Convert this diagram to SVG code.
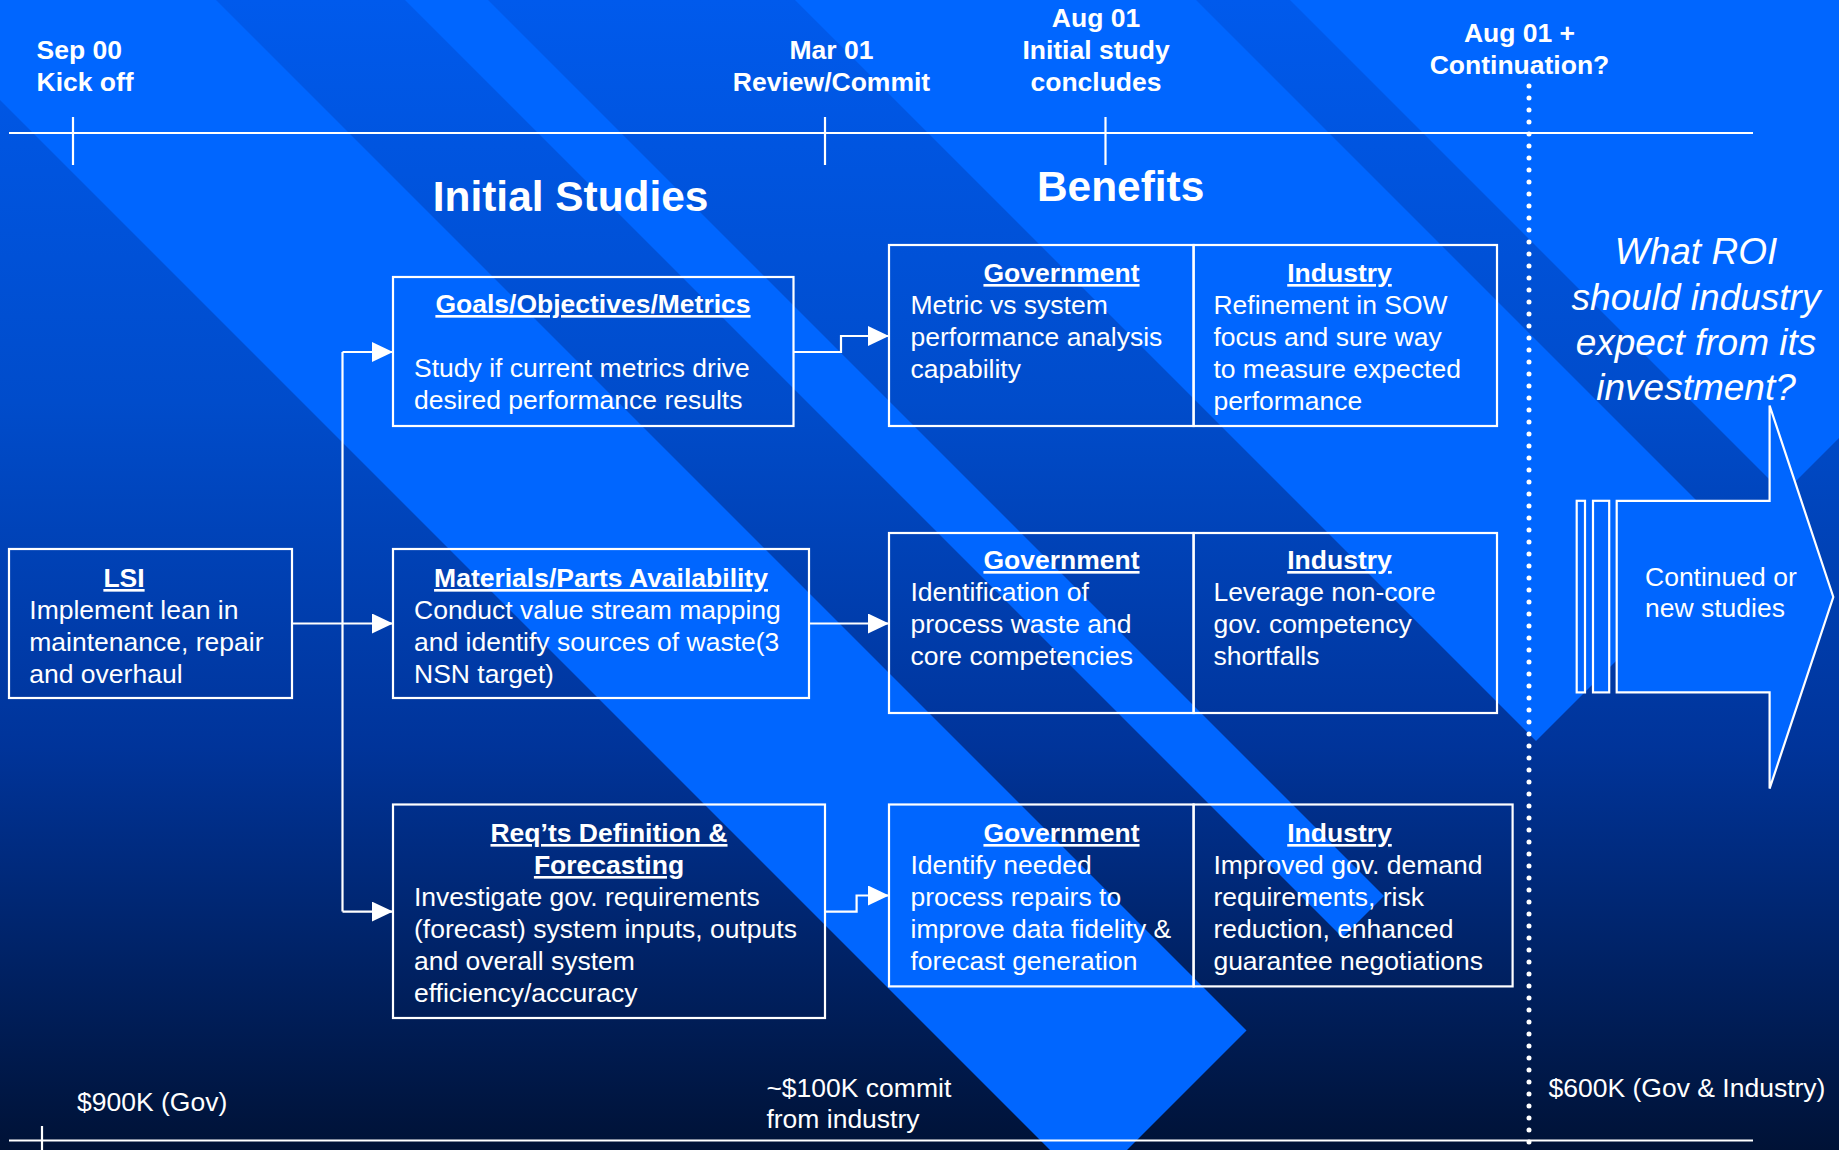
<svg xmlns="http://www.w3.org/2000/svg" width="1839" height="1150" viewBox="0 0 1839 1150">
  <defs>
    <linearGradient id="bg" x1="0" y1="0" x2="0" y2="1">
      <stop offset="0" stop-color="#005AEC"/>
      <stop offset="0.35" stop-color="#004CCB"/>
      <stop offset="0.65" stop-color="#00349A"/>
      <stop offset="1" stop-color="#001236"/>
    </linearGradient>
    <marker id="arrow" markerUnits="userSpaceOnUse" viewBox="0 0 21 20" refX="21" refY="10" markerWidth="21" markerHeight="20" orient="auto">
      <path d="M0,0 L21,10 L0,20 z" fill="#FFFFFF"/>
    </marker>
    <style>
      text { font-family: "Liberation Sans", Arial, sans-serif; fill: #FFFFFF; }
      .ms { font-size: 26.5px; font-weight: bold; }
      .title { font-size: 42.4px; font-weight: bold; text-anchor: middle; }
      .hd { font-size: 26.5px; font-weight: bold; text-decoration: underline; text-anchor: middle; }
      .tx { font-size: 26.5px; }
      .q { font-size: 37px; font-style: italic; text-anchor: middle; }
      .mid { text-anchor: middle; }
      .box { fill: none; stroke: #FFFFFF; stroke-width: 2.2; }
      .stripe { fill: #0066FF; }
      .axis { stroke: #FFFFFF; stroke-width: 2.2; fill: none; }
      .conn { stroke: #FFFFFF; stroke-width: 2.2; fill: none; }
      .solid { fill: #0066FF; stroke: #FFFFFF; stroke-width: 2.2; }
    </style>
  </defs>

  <!-- backdrop: gradient plus diagonal bands, each cut square along x+y=2280 -->
  <g id="background">
    <rect x="0" y="0" width="1839" height="1150" fill="url(#bg)"/>
    <polygon class="stripe" points="-2000,-1900 1088.5,1188.5 1246.5,1030.5 -2000,-2216"/>
    <polygon class="stripe" points="-2000,-2405 1342.5,937.5 1384,896 -2000,-2488"/>
    <polygon class="stripe" points="-2000,-2795 1536,741 1736.5,540.5 -2000,-3196"/>
    <polygon class="stripe" points="1290,0 1839,0 1839,438 1783.5,493.5"/>
  </g>

  <!-- timeline -->
  <g id="timeline">
    <line class="axis" x1="9" y1="133" x2="1753" y2="133"/>
    <line class="axis" x1="73" y1="117" x2="73" y2="165"/>
    <line class="axis" x1="825" y1="117" x2="825" y2="165"/>
    <line class="axis" x1="1105.5" y1="117" x2="1105.5" y2="165"/>
    <line class="axis" x1="9" y1="1140.5" x2="1753" y2="1140.5"/>
    <line class="axis" x1="42" y1="1126" x2="42" y2="1150"/>
    <line x1="1529" y1="86" x2="1529" y2="1150" stroke="#FFFFFF" stroke-width="5" stroke-linecap="round" stroke-dasharray="0 12"/>
  </g>

  <g id="milestones">
    <text class="ms" x="36.5" y="59">Sep 00</text>
    <text class="ms" x="36.5" y="91">Kick off</text>
    <text class="ms mid" x="831.5" y="59">Mar 01</text>
    <text class="ms mid" x="831.5" y="91">Review/Commit</text>
    <text class="ms mid" x="1096" y="27">Aug 01</text>
    <text class="ms mid" x="1096" y="59">Initial study</text>
    <text class="ms mid" x="1096" y="91">concludes</text>
    <text class="ms mid" x="1519.5" y="42">Aug 01 +</text>
    <text class="ms mid" x="1519.5" y="74">Continuation?</text>
  </g>

  <g id="titles">
    <text class="title" x="570.6" y="211">Initial Studies</text>
    <text class="title" x="1120.6" y="201">Benefits</text>
  </g>

  <!-- connectors -->
  <g id="connectors">
    <path class="conn" d="M292,623.5 H393" marker-end="url(#arrow)"/>
    <path class="conn" d="M342.5,352 V911.6"/>
    <path class="conn" d="M342.5,352 H393" marker-end="url(#arrow)"/>
    <path class="conn" d="M342.5,911.6 H393" marker-end="url(#arrow)"/>
    <path class="conn" d="M793.5,352 H841 V336 H889" marker-end="url(#arrow)"/>
    <path class="conn" d="M809,623.5 H889" marker-end="url(#arrow)"/>
    <path class="conn" d="M825,911.6 H856.6 V895.5 H889" marker-end="url(#arrow)"/>
  </g>

  <g id="lsi">
    <rect class="box" x="9" y="549" width="283" height="149"/>
    <text class="hd" x="124" y="587">LSI</text>
    <text class="tx" x="29.3" y="619">Implement lean in</text>
    <text class="tx" x="29.3" y="651">maintenance, repair</text>
    <text class="tx" x="29.3" y="683">and overhaul</text>
  </g>

  <g id="goals">
    <rect class="box" x="393" y="277" width="400.5" height="149"/>
    <text class="hd" x="593" y="313">Goals/Objectives/Metrics</text>
    <text class="tx" x="414" y="377">Study if current metrics drive</text>
    <text class="tx" x="414" y="409">desired performance results</text>
  </g>

  <g id="materials">
    <rect class="box" x="393" y="549" width="416" height="149"/>
    <text class="hd" x="601" y="587">Materials/Parts Availability</text>
    <text class="tx" x="414" y="619">Conduct value stream mapping</text>
    <text class="tx" x="414" y="651">and identify sources of waste(3</text>
    <text class="tx" x="414" y="683">NSN target)</text>
  </g>

  <g id="reqts">
    <rect class="box" x="393" y="804.5" width="432" height="213.5"/>
    <text class="hd" x="609" y="842">Req’ts Definition &amp;</text>
    <text class="hd" x="609" y="874">Forecasting</text>
    <text class="tx" x="414" y="906">Investigate gov. requirements</text>
    <text class="tx" x="414" y="938">(forecast) system inputs, outputs</text>
    <text class="tx" x="414" y="970">and overall system</text>
    <text class="tx" x="414" y="1002">efficiency/accuracy</text>
  </g>

  <g id="gov-metrics">
    <rect class="box" x="889" y="245" width="304.6" height="181"/>
    <text class="hd" x="1061.5" y="282">Government</text>
    <text class="tx" x="910.5" y="314">Metric vs system</text>
    <text class="tx" x="910.5" y="346">performance analysis</text>
    <text class="tx" x="910.5" y="378">capability</text>
  </g>
  <g id="ind-metrics">
    <rect class="box" x="1193.6" y="245" width="303.4" height="181"/>
    <text class="hd" x="1339.5" y="282">Industry</text>
    <text class="tx" x="1213.4" y="314">Refinement in SOW</text>
    <text class="tx" x="1213.4" y="346">focus and sure way</text>
    <text class="tx" x="1213.4" y="378">to measure expected</text>
    <text class="tx" x="1213.4" y="410">performance</text>
  </g>

  <g id="gov-materials">
    <rect class="box" x="889" y="533" width="304.6" height="180"/>
    <text class="hd" x="1061.5" y="569">Government</text>
    <text class="tx" x="910.5" y="601">Identification of</text>
    <text class="tx" x="910.5" y="633">process waste and</text>
    <text class="tx" x="910.5" y="665">core competencies</text>
  </g>
  <g id="ind-materials">
    <rect class="box" x="1193.6" y="533" width="303.4" height="180"/>
    <text class="hd" x="1339.5" y="569">Industry</text>
    <text class="tx" x="1213.4" y="601">Leverage non-core</text>
    <text class="tx" x="1213.4" y="633">gov. competency</text>
    <text class="tx" x="1213.4" y="665">shortfalls</text>
  </g>

  <g id="gov-reqts">
    <rect class="box" x="889" y="804.5" width="304.6" height="181.9"/>
    <text class="hd" x="1061.5" y="842">Government</text>
    <text class="tx" x="910.5" y="874">Identify needed</text>
    <text class="tx" x="910.5" y="906">process repairs to</text>
    <text class="tx" x="910.5" y="938">improve data fidelity &amp;</text>
    <text class="tx" x="910.5" y="970">forecast generation</text>
  </g>
  <g id="ind-reqts">
    <rect class="box" x="1193.6" y="804.5" width="319" height="181.9"/>
    <text class="hd" x="1339.5" y="842">Industry</text>
    <text class="tx" x="1213.4" y="874">Improved gov. demand</text>
    <text class="tx" x="1213.4" y="906">requirements, risk</text>
    <text class="tx" x="1213.4" y="938">reduction, enhanced</text>
    <text class="tx" x="1213.4" y="970">guarantee negotiations</text>
  </g>

  <g id="roi-question">
    <text class="q" x="1696" y="264">What ROI</text>
    <text class="q" x="1696" y="309.5">should industry</text>
    <text class="q" x="1696" y="354.5">expect from its</text>
    <text class="q" x="1696" y="400">investment?</text>
  </g>

  <g id="continuation">
    <rect class="solid" x="1576.7" y="500.8" width="8.3" height="191.6"/>
    <rect class="solid" x="1593" y="500.8" width="16.2" height="191.6"/>
    <polygon class="solid" points="1616.7,500.8 1769.6,500.8 1769.6,405.5 1833.3,597 1769.6,788.6 1769.6,692.4 1616.7,692.4"/>
    <text class="tx" x="1645" y="586">Continued or</text>
    <text class="tx" x="1645" y="617">new studies</text>
  </g>

  <g id="funding">
    <text class="tx" x="77" y="1111">$900K (Gov)</text>
    <text class="tx" x="766.4" y="1097">~$100K commit</text>
    <text class="tx" x="766.4" y="1128">from industry</text>
    <text class="tx" x="1548.5" y="1097">$600K (Gov &amp; Industry)</text>
  </g>
</svg>
